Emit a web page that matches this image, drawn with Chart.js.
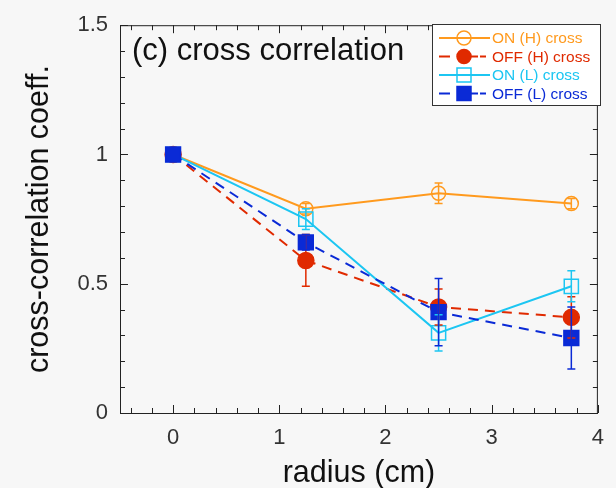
<!DOCTYPE html>
<html>
<head>
<meta charset="utf-8">
<script src="https://cdn.jsdelivr.net/npm/chart.js@4"></script>
<style>
  html, body { margin: 0; padding: 0; background: #f7f7f7; }
  #wrap { width: 616px; height: 488px; }
</style>
</head>
<body>
<div id="wrap"><canvas id="cross_chart" width="616" height="488"></canvas></div>
<script>
// radius positions (cm)
const radius = [0, 1.25, 2.5, 3.75];

const onH = [1, 0.79, 0.85, 0.81];
const onHErr = [0, 0.02, 0.04, 0.02];
const offH = [1, 0.59, 0.41, 0.37];
const offHErr = [0, 0.10, 0.07, 0.08];
const onL = [1, 0.75, 0.31, 0.49];
const onLErr = [0, 0.04, 0.07, 0.06];
const offL = [1, 0.66, 0.39, 0.29];
const offLErr = [0, 0.03, 0.13, 0.12];

const seriesNames = ['ON (H) cross', 'OFF (H) cross', 'ON (L) cross', 'OFF (L) cross'];

const xTicks = [0, 1, 2, 3, 4];
const yTicks = [0, 0.5, 1, 1.5];

const colOnH = '#ff9a1e';
const colOffH = '#e02a00';
const colOnL = '#1cc6f2';
const colOffL = '#0a2ad6';

const FONT = '"Liberation Sans", Arial, sans-serif';

function pts(ys) {
    return radius.map((x, i) => ({ x: x, y: ys[i] }));
}

// error bars drawn through the scales
const errorBars = {
    id: 'errorBars',
    afterDatasetsDraw(chart) {
        const ctx = chart.ctx;
        const xs = chart.scales.x, ys = chart.scales.y;
        chart.data.datasets.forEach(ds => {
            if (!ds.err) return;
            ctx.save();
            ctx.strokeStyle = ds.borderColor;
            ctx.lineWidth = 1.5;
            ds.data.forEach((p, i) => {
                const e = ds.err[i];
                if (!e) return;
                const px = xs.getPixelForValue(p.x);
                const top = ys.getPixelForValue(p.y + e);
                const bot = ys.getPixelForValue(p.y - e);
                ctx.beginPath();
                ctx.moveTo(px, top); ctx.lineTo(px, bot);
                ctx.moveTo(px - 4, top); ctx.lineTo(px + 4, top);
                ctx.moveTo(px - 4, bot); ctx.lineTo(px + 4, bot);
                ctx.stroke();
            });
            ctx.restore();
        });
    }
};

// frame with inward ticks, panel label, legend box
const frameDeco = {
    id: 'frameDeco',
    afterDraw(chart) {
        const ctx = chart.ctx;
        const a = chart.chartArea;
        const xs = chart.scales.x, ys = chart.scales.y;
        ctx.save();
        ctx.strokeStyle = '#222';
        ctx.lineWidth = 1;
        ctx.strokeRect(a.left + 0.5, a.top + 0.5, a.right - a.left - 1, a.bottom - a.top);
        ctx.beginPath();
        for (let v = -0.4; v < 4.01; v += 0.2) {
            const r = Math.round(v * 10) / 10;
            const px = Math.round(xs.getPixelForValue(r)) + 0.5;
            const len = Number.isInteger(r) ? 8 : 5;
            ctx.moveTo(px, a.bottom); ctx.lineTo(px, a.bottom - len);
            ctx.moveTo(px, a.top); ctx.lineTo(px, a.top + len);
        }
        for (let v = 0; v < 1.51; v += 0.1) {
            const r = Math.round(v * 10) / 10;
            const py = Math.round(ys.getPixelForValue(r)) + 0.5;
            const len = (Math.round(r * 10) % 5 === 0) ? 8 : 5;
            ctx.moveTo(a.left, py); ctx.lineTo(a.left + len, py);
            ctx.moveTo(a.right, py); ctx.lineTo(a.right - len, py);
        }
        ctx.stroke();

        // panel label
        ctx.fillStyle = '#111';
        ctx.font = '31px ' + FONT;
        ctx.textBaseline = 'alphabetic';
        ctx.fillText('(c) cross correlation', a.left + 12, a.top + 35);

        // legend box
        const bx = 432, by = 24, bw = 168, bh = 81;
        ctx.fillStyle = '#ffffff';
        ctx.fillRect(bx, by, bw, bh);
        ctx.strokeStyle = '#333';
        ctx.strokeRect(bx + 0.5, by + 0.5, bw, bh);
        ctx.font = '15.5px ' + FONT;
        ctx.textBaseline = 'middle';
        chart.data.datasets.forEach((ds, i) => {
            const cy = by + 14 + i * 18.5;
            const cx = 464;
            ctx.strokeStyle = ds.borderColor;
            ctx.lineWidth = 2;
            ctx.setLineDash(ds.borderDash ? [11, 17] : []);
            ctx.beginPath();
            ctx.moveTo(439, cy); ctx.lineTo(490, cy);
            ctx.stroke();
            ctx.setLineDash([]);
            if (ds.borderDash) {
                ctx.beginPath();
                ctx.moveTo(480, cy); ctx.lineTo(486, cy);
                ctx.stroke();
            }
            ctx.fillStyle = ds.pointBackgroundColor;
            ctx.lineWidth = 1.5;
            const r = 7;
            ctx.beginPath();
            if (ds.pointStyle === 'rect') {
                ctx.rect(cx - r, cy - r, r * 2, r * 2);
            } else {
                ctx.arc(cx, cy, r, 0, Math.PI * 2);
            }
            ctx.fill();
            ctx.stroke();
            ctx.fillStyle = ds.borderColor;
            ctx.fillText(ds.label, 492, cy + 1);
        });
        ctx.restore();
    }
};

function fnCrossChart() {
    const datasets = [
        {
            label: seriesNames[0], data: pts(onH), err: onHErr,
            borderColor: colOnH, pointBackgroundColor: 'rgba(0,0,0,0)',
            pointStyle: 'circle', pointRadius: 7, order: 4
        },
        {
            label: seriesNames[1], data: pts(offH), err: offHErr,
            borderColor: colOffH, pointBackgroundColor: colOffH, borderDash: [10, 7],
            pointStyle: 'circle', pointRadius: 8, order: 3
        },
        {
            label: seriesNames[2], data: pts(onL), err: onLErr,
            borderColor: colOnL, pointBackgroundColor: 'rgba(0,0,0,0)',
            pointStyle: 'rect', pointRadius: 10, order: 2
        },
        {
            label: seriesNames[3], data: pts(offL), err: offLErr,
            borderColor: colOffL, pointBackgroundColor: colOffL, borderDash: [10, 7],
            pointStyle: 'rect', pointRadius: 10.5, order: 1
        }
    ].map(d => Object.assign({
        type: 'line', borderWidth: 2, pointBorderColor: d.borderColor,
        pointBorderWidth: 1.5, fill: false, tension: 0
    }, d));

    const config = {
        type: 'line',
        data: { datasets: datasets },
        options: {
            responsive: false,
            animation: false,
            layout: { padding: { left: 0, right: 17, top: 25, bottom: 0 } },
            plugins: { legend: { display: false }, tooltip: { enabled: false } },
            scales: {
                x: {
                    type: 'linear', min: -0.5, max: 4,
                    afterBuildTicks: s => { s.ticks = xTicks.map(v => ({ value: v })); },
                    afterFit: s => { s.height = 75; },
                    grid: { display: false, drawTicks: false },
                    border: { display: false },
                    ticks: { color: '#333', font: { size: 22, family: FONT }, padding: 12, maxRotation: 0 },
                    title: { display: true, text: 'radius (cm)', color: '#111', font: { size: 30.5, family: FONT, lineHeight: 1 }, padding: { top: 0, bottom: -1 } }
                },
                y: {
                    type: 'linear', min: 0, max: 1.5,
                    afterBuildTicks: s => { s.ticks = yTicks.map(v => ({ value: v })); },
                    afterFit: s => { s.width = 120; },
                    grid: { display: false, drawTicks: false },
                    border: { display: false },
                    ticks: { color: '#333', font: { size: 22, family: FONT }, padding: 12,
                        callback: v => String(v) },
                    title: { display: true, text: 'cross-correlation coeff.', color: '#111', font: { size: 30.5, family: FONT, lineHeight: 1 }, padding: { top: 24, bottom: 0 } }
                }
            }
        },
        plugins: [errorBars, frameDeco]
    };

    new Chart(document.getElementById('cross_chart'), config);
}

fnCrossChart();
</script>
</body>
</html>
